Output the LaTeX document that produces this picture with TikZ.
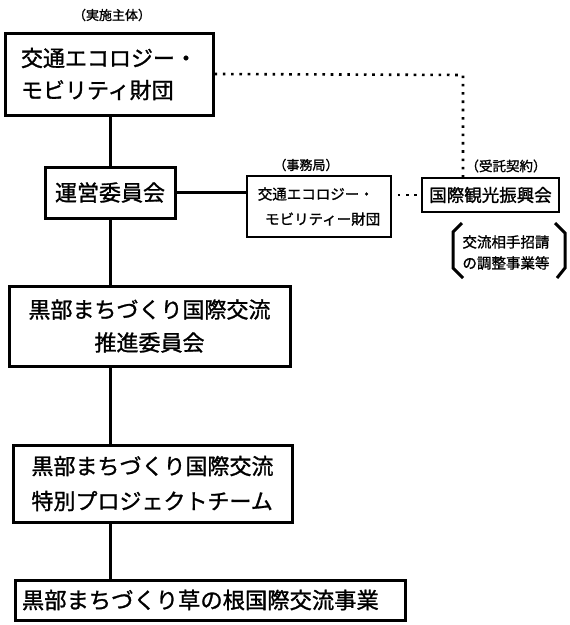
\documentclass[tikz,border=0pt]{standalone}
\usepackage{fontspec}
\setmainfont{Noto Sans CJK JP}[FakeBold = 1.2]
\usepackage{tikz}

\begin{document}
\begin{tikzpicture}[x = 1pt, y = -1pt, every node/.style = {inner sep = 0pt}, box/.style = {draw = black, line width = 3pt, align = left}, conn/.style = {line width = 3pt}, dots/.style = {line width = 2.6pt, dash pattern = on 2.6pt off 5.7pt}]
	\useasboundingbox (0,0) rectangle (570,625);
	\node[box, minimum width = 208pt, minimum height = 82pt, font = \fontsize{22}{32}\selectfont] (A) at (109,74) {交通エコロジー・\\モビリティ財団};
	\node[box, minimum width = 130pt, minimum height = 51pt, font = \fontsize{22}{22}\selectfont] (B) at (110,192.5) {運営委員会};
	\node[box, line width = 2.2pt, minimum width = 144pt, minimum height = 61pt, font = \fontsize{14.5}{25}\selectfont] (C) at (319,206.5) {交通エコロジー・\\\hspace*{0.5em}モビリティー財団};
	\node[box, line width = 2.2pt, minimum width = 137pt, minimum height = 34pt, font = \fontsize{17.5}{17.5}\selectfont] (D) at (490.5,195) {国際観光振興会};
	\node[box, align = center, minimum width = 281pt, minimum height = 80pt, font = \fontsize{22}{33}\selectfont] (E) at (149.5,326) {黒部まちづくり国際交流\\推進委員会};
	\node[box, minimum width = 279pt, minimum height = 77pt, font = \fontsize{22}{35}\selectfont] (F) at (152.5,483.5) {黒部まちづくり国際交流\\特別プロジェクトチーム};
	\node[box, text width = 376pt, minimum width = 390pt, minimum height = 40pt, font = \fontsize{22.3}{22}\selectfont] (G) at (210,600) {黒部まちづくり草の根国際交流事業};
	\node[font = \fontsize{13}{13}\selectfont] (P) at (112,15) {（実施主体）};
	\node[font = \fontsize{13}{13}\selectfont] (Q) at (306,165) {（事務局）};
	\node[font = \fontsize{13.5}{13.5}\selectfont] (R) at (506,166) {（受託契約）};
	\node[align = center, font = \fontsize{14.5}{21}\selectfont] (T) at (506,252.5) {交流相手招請\\の調整事業等};
	\coordinate (K) at (463,75);

	\draw[conn] (B.north |- A.south) -- (B.north);
	\draw[conn] (B.south) -- (B.south |- E.north);
	\draw[conn] (B.south |- E.south) -- (B.south |- F.north);
	\draw[conn] (B.south |- F.south) -- (B.south |- G.north);
	\draw[conn] (B.east) -- (B.east -| C.west);
	\draw[dots] (A.east) -- (K) -- (K |- D.north);
	\draw[dots, dash phase = 2.6pt] (C.east |- D.west) -- (D.west);

	\draw[conn] (462,223) -- (453,232) -- (453,268) -- (463,278);
	\draw[conn] (555,223) -- (565,233) -- (565,268) -- (557,278);
\end{tikzpicture}
\end{document}
